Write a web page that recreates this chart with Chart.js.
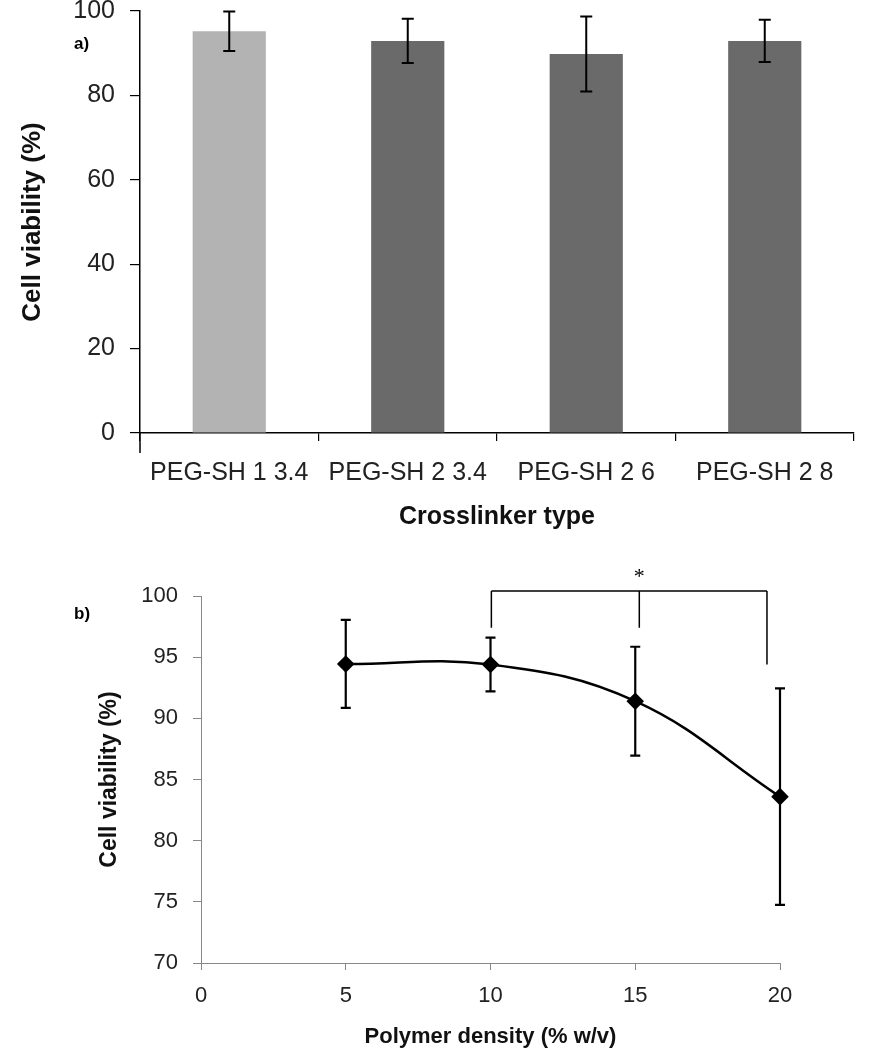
<!DOCTYPE html>
<html>
<head>
<meta charset="utf-8">
<script src="https://cdn.jsdelivr.net/npm/chart.js@4.4.1/dist/chart.umd.min.js"></script>
<style>
    html, body { margin: 0; padding: 0; background: #fff; }
    #wrap { position: relative; width: 884px; height: 1050px; font-family: 'Liberation Sans', Arial, sans-serif; }
    .panel { position: absolute; left: 0; width: 884px; }
    #boxA { top: 0; height: 540px; }
    #boxB { top: 540px; height: 510px; }
    .tag { position: absolute; font-weight: bold; font-size: 17px; line-height: 17px; color: #000; }
</style>
</head>
<body>
<div id="wrap">
    <div class="panel" id="boxA"><canvas id="chartA"></canvas></div>
    <div class="panel" id="boxB"><canvas id="chartB"></canvas></div>
    <div class="tag" style="left:74px; top:35px;">a)</div>
    <div class="tag" style="left:74px; top:605px;">b)</div>
</div>
<script>
// ---- Data: panel a ----
const crosslinkers = ['PEG-SH 1 3.4', 'PEG-SH 2 3.4', 'PEG-SH 2 6', 'PEG-SH 2 8'];
const viabilityA = [95.2, 92.9, 89.8, 92.9];
const errorA = [4.7, 5.25, 8.9, 5.0];
const barColors = ['#b3b3b3', '#6a6a6a', '#6a6a6a', '#6a6a6a'];

// ---- Data: panel b ----
const density = [5, 10, 15, 20];
const viabilityB = [94.45, 94.4, 91.4, 83.6];
const errorB = [3.6, 2.2, 4.45, 8.85];
// significance bracket: legs at these x values, hanging from bracketTop down to legEnd
const bracketX = [10.03, 15.14, 19.55];
const bracketLegEnd = [97.4, 97.4, 94.4];
const bracketTop = 100.4;
const bracketLabel = '*';

Chart.defaults.font.family = "'Liberation Sans', Arial, sans-serif";
Chart.defaults.color = '#222';
Chart.defaults.animation = false;

// error bars drawn from each dataset's "errors" array
const errorBars = {
    id: 'errorBars',
    afterDatasetsDraw(chart, args, opts) {
        const ctx = chart.ctx;
        const yScale = chart.scales.y;
        chart.data.datasets.forEach((ds, di) => {
            if (!ds.errors) return;
            const meta = chart.getDatasetMeta(di);
            meta.data.forEach((el, i) => {
                const v = ds.yValues[i];
                const e = ds.errors[i];
                const x = el.x;
                const yTop = yScale.getPixelForValue(v + e);
                const yBot = yScale.getPixelForValue(v - e);
                ctx.save();
                ctx.strokeStyle = '#000';
                ctx.lineWidth = opts.lineWidth;
                ctx.beginPath();
                ctx.moveTo(x, yTop); ctx.lineTo(x, yBot);
                ctx.moveTo(x - opts.cap, yTop); ctx.lineTo(x + opts.cap, yTop);
                ctx.moveTo(x - opts.cap, yBot); ctx.lineTo(x + opts.cap, yBot);
                ctx.stroke();
                ctx.restore();
            });
        });
    }
};

// value axis of panel a runs a little past the category axis, as in Excel
const axisTail = {
    id: 'axisTail',
    afterDraw(chart, args, opts) {
        const ctx = chart.ctx;
        const { left, bottom } = chart.chartArea;
        ctx.save();
        ctx.strokeStyle = '#000';
        ctx.lineWidth = 1.5;
        ctx.beginPath();
        ctx.moveTo(left, bottom);
        ctx.lineTo(left, bottom + opts.length);
        ctx.stroke();
        ctx.restore();
    }
};

// significance bracket for panel b
const sigBracket = {
    id: 'sigBracket',
    afterDatasetsDraw(chart) {
        const ctx = chart.ctx;
        const xs = chart.scales.x, ys = chart.scales.y;
        const top = ys.getPixelForValue(bracketTop);
        const px = bracketX.map(v => xs.getPixelForValue(v));
        ctx.save();
        ctx.strokeStyle = '#000';
        ctx.lineWidth = 1.5;
        ctx.beginPath();
        ctx.moveTo(px[0], top); ctx.lineTo(px[px.length - 1], top);
        px.forEach((x, i) => {
            ctx.moveTo(x, top);
            ctx.lineTo(x, ys.getPixelForValue(bracketLegEnd[i]));
        });
        ctx.stroke();
        ctx.fillStyle = '#000';
        ctx.font = "22px 'Liberation Serif', 'Times New Roman', serif";
        ctx.textAlign = 'center';
        ctx.textBaseline = 'alphabetic';
        ctx.fillText(bracketLabel, px[1], top - 8);
        ctx.restore();
    }
};

const noScalePad = (scale) => {
    scale.paddingTop = 0; scale.paddingBottom = 0;
    scale.paddingLeft = 0; scale.paddingRight = 0;
};

// ---- Panel a: bar chart ----
new Chart(document.getElementById('chartA'), {
    type: 'bar',
    data: {
        labels: crosslinkers,
        datasets: [{
            data: viabilityA,
            yValues: viabilityA,
            errors: errorA,
            backgroundColor: barColors,
            borderWidth: 0,
            categoryPercentage: 1,
            barPercentage: 0.41
        }]
    },
    options: {
        responsive: true,
        maintainAspectRatio: false,
        devicePixelRatio: 1,
        layout: { padding: { top: 11, right: 30, left: 0, bottom: 0 } },
        plugins: {
            legend: { display: false },
            tooltip: { enabled: false },
            errorBars: { lineWidth: 2, cap: 6 },
            axisTail: { length: 20 }
        },
        scales: {
            x: {
                grid: { display: true, drawOnChartArea: false, drawTicks: true, tickLength: 8, color: '#000', lineWidth: 1.2, offset: true },
                border: { color: '#000', width: 1.5 },
                ticks: { font: { size: 25 }, color: '#222', padding: 17, maxRotation: 0, autoSkip: false },
                title: { display: true, text: 'Crosslinker type', font: { size: 25, weight: 'bold' }, color: '#111', padding: { top: 0, bottom: 8 } },
                afterFit: (s) => { s.height = 107; noScalePad(s); }
            },
            y: {
                min: 0, max: 100,
                grid: { drawOnChartArea: false, drawTicks: true, tickLength: 10, color: '#000', lineWidth: 1.2 },
                border: { color: '#000', width: 1.5 },
                ticks: { stepSize: 20, font: { size: 25 }, color: '#222', padding: 15 },
                title: { display: true, text: 'Cell viability (%)', font: { size: 26, weight: 'bold' }, color: '#111', padding: { top: 17, bottom: 0 } },
                afterFit: (s) => { s.width = 140; noScalePad(s); }
            }
        }
    },
    plugins: [errorBars, axisTail]
});

// ---- Panel b: smoothed line with markers ----
new Chart(document.getElementById('chartB'), {
    type: 'line',
    data: {
        datasets: [{
            data: density.map((d, i) => ({ x: d, y: viabilityB[i] })),
            yValues: viabilityB,
            errors: errorB,
            borderColor: '#000',
            borderWidth: 2.5,
            tension: 0.4,
            pointStyle: 'rectRot',
            pointRadius: 7,
            pointBackgroundColor: '#000',
            pointBorderColor: '#000',
            clip: false
        }]
    },
    options: {
        responsive: true,
        maintainAspectRatio: false,
        devicePixelRatio: 1,
        layout: { padding: { top: 56, right: 104, left: 0, bottom: 0 } },
        plugins: {
            legend: { display: false },
            tooltip: { enabled: false },
            errorBars: { lineWidth: 2.2, cap: 5 }
        },
        scales: {
            x: {
                type: 'linear',
                min: 0, max: 20,
                grid: { drawOnChartArea: false, drawTicks: true, tickLength: 7, color: '#888' },
                border: { color: '#888', width: 1 },
                ticks: { stepSize: 5, font: { size: 22 }, color: '#222', padding: 13 },
                title: { display: true, text: 'Polymer density (% w/v)', font: { size: 22, weight: 'bold' }, color: '#111', padding: { top: 0, bottom: 0 } },
                afterFit: (s) => { s.height = 87; noScalePad(s); }
            },
            y: {
                min: 70, max: 100,
                grid: { drawOnChartArea: false, drawTicks: true, tickLength: 8, color: '#888' },
                border: { color: '#888', width: 1 },
                ticks: { stepSize: 5, font: { size: 22 }, color: '#222', padding: 15 },
                title: { display: true, text: 'Cell viability (%)', font: { size: 23, weight: 'bold' }, color: '#111', padding: { top: 96, bottom: 0 } },
                afterFit: (s) => { s.width = 201; noScalePad(s); }
            }
        }
    },
    plugins: [errorBars, sigBracket]
});
</script>
</body>
</html>
